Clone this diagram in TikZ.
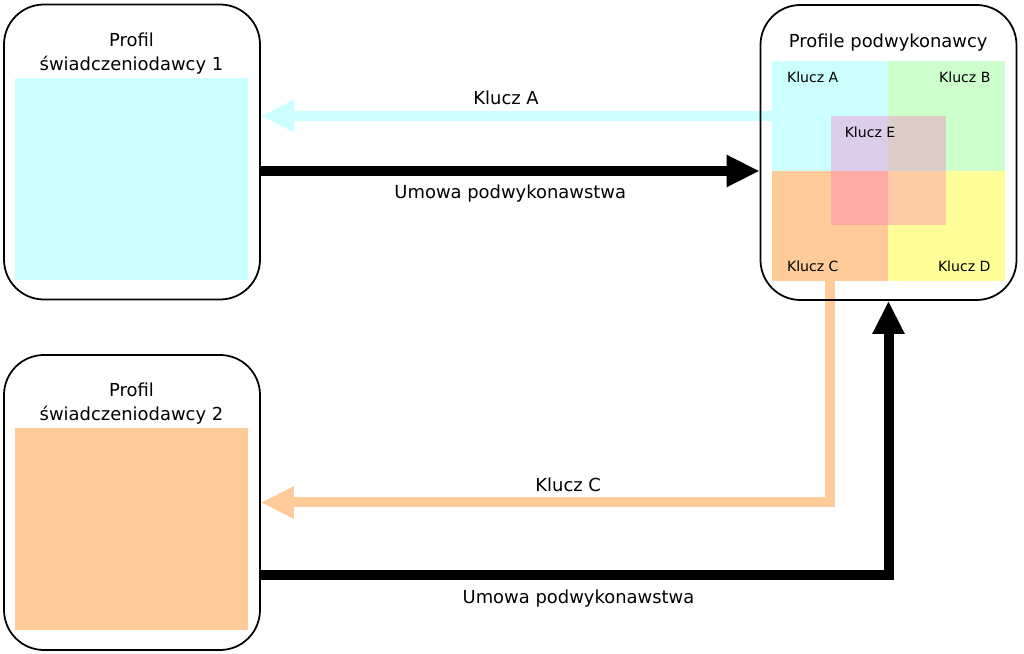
\documentclass[tikz,border=0pt]{standalone}
\usepackage{fontspec}
\setmainfont{DejaVu Sans}
\usetikzlibrary{positioning,arrows.meta,backgrounds}

\definecolor{kluczA}{HTML}{CCFFFF}
\definecolor{kluczB}{HTML}{CCFFCC}
\definecolor{kluczC}{HTML}{FFCC99}
\definecolor{kluczD}{HTML}{FFFF99}
\definecolor{kluczE}{HTML}{FF66C0}

\tikzset{
  profil/.style={draw, line width=1pt, rounded corners=0.8cm, minimum width=5.12cm, minimum height=5.9cm},
  pole/.style={inner sep=0pt, minimum width=4.66cm, minimum height=4.04cm},
  kwadrat/.style={inner sep=0pt, minimum width=2.32cm, minimum height=2.18cm},
  tytul/.style={align=center, font=\fontsize{10.2}{13.6}\selectfont},
  maly/.style={inner sep=0pt, font=\fontsize{8}{9.6}\selectfont},
  opis/.style={font=\fontsize{10.2}{12}\selectfont},
  strzalka/.style={line width=0.2cm, -{Triangle[width=0.6cm,length=0.66cm]}},
}

\begin{document}
\begin{tikzpicture}
    \useasboundingbox (0,0) rectangle (20.48,-13.08);

    % swiadczeniodawcy
    \node[profil] (p1) at (2.64,-3.04) {};
    \node[pole, fill=kluczA] (f1) at (2.63,-3.58) {};
    \node[tytul, above=-1.5pt of f1] {Profil\\świadczeniodawcy 1};

    \node[profil] (p2) at (2.64,-10.05) {};
    \node[pole, fill=kluczC] (f2) at (2.63,-10.58) {};
    \node[tytul, above=-1.5pt of f2] {Profil\\świadczeniodawcy 2};

    % podwykonawca
    \node[profil] (pp) at (17.77,-3.05) {};
    \node[kwadrat, fill=kluczA, draw=kluczA, line width=0.3pt] (qa) at (16.6,-2.32) {};
    \node[kwadrat, fill=kluczB, draw=kluczB, line width=0.3pt, right=0pt of qa] (qb) {};
    \node[kwadrat, fill=kluczC, draw=kluczC, line width=0.3pt, below=0pt of qa] (qc) {};
    \node[kwadrat, fill=kluczD, draw=kluczD, line width=0.3pt, right=0pt of qc] (qd) {};
    \node[kwadrat, fill=kluczE, fill opacity=0.32, minimum width=2.3cm] (qe) at (qa.south east) {};
    \node[tytul, above=2pt of qa.north east] {Profile podwykonawcy};

    \node[maly, anchor=north west] at ([shift={(0.3,-0.2)}]qa.north west)  {Klucz A};
    \node[maly, anchor=north east] at ([shift={(-0.28,-0.2)}]qb.north east) {Klucz B};
    \node[maly, anchor=south west] at ([shift={(0.3,0.16)}]qc.south west)   {Klucz C};
    \node[maly, anchor=south east] at ([shift={(-0.28,0.16)}]qd.south east) {Klucz D};
    \node[maly, anchor=north west] at ([shift={(0.28,-0.22)}]qe.north west) {Klucz E};

    % przeplyw kluczy i umowy
    \begin{scope}[on background layer]
      \draw[strzalka, kluczA] (qa.west) -- (qa.west -| p1.east)
        node[opis, above=0pt, pos=0.52, black] {Klucz A};
      \draw[strzalka, black] ([yshift=-0.38cm]p1.east) -- ([yshift=-0.38cm]p1.east -| pp.west)
        node[opis, below=2pt, midway] {Umowa podwykonawstwa};
      \draw[strzalka, kluczC] (qc.south) |- (p2.east)
        node[opis, above=0pt, pos=0.73, black] {Klucz C};
      \draw[strzalka, black] ([yshift=-1.45cm]p2.east) -| (pp.south)
        node[opis, below=2.5pt, pos=0.253] {Umowa podwykonawstwa};
    \end{scope}
\end{tikzpicture}
\end{document}
